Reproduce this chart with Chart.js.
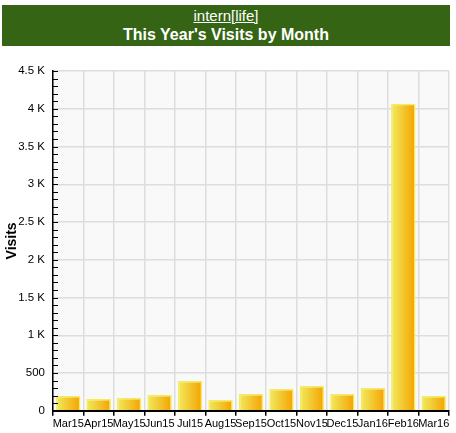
<!DOCTYPE html>
<html>
<head>
<meta charset="utf-8">
<script src="https://cdn.jsdelivr.net/npm/chart.js@4"></script>
<style>
  body { margin: 0; background: #fff; font-family: "Liberation Sans", Arial, sans-serif; }
  #head {
    position: absolute; left: 2px; top: 5px; width: 448px; height: 41px;
    background: #346414; color: #fff; text-align: center;
  }
  #head .site { font-size: 15px; text-decoration: underline; line-height: 19px; padding-top: 1px; }
  #head .title { font-size: 16px; font-weight: bold; line-height: 20px; }
  #wrap { position: absolute; left: 0; top: 50px; width: 456px; height: 383px; }
</style>
</head>
<body>
<div id="head">
  <div class="site">intern[life]</div>
  <div class="title">This Year's Visits by Month</div>
</div>
<div id="wrap"><canvas id="visitsChart"></canvas></div>
<script>
// months shown on the x axis
const months = ['Mar15', 'Apr15', 'May15', 'Jun15', 'Jul15', 'Aug15', 'Sep15',
  'Oct15', 'Nov15', 'Dec15', 'Jan16', 'Feb16', 'Mar16'];
// visits per month
const visits = [195, 155, 168, 208, 394, 142, 221, 288, 328, 221, 301, 4065, 195];
// y axis range and labelled steps
const yMax = 4500;
const yMajor = 500;
const yMinor = 100;

function formatK(v) {
  if (v === 0) return '0';
  if (v < 1000) return String(v);
  return (v / 1000) + ' K';
}

// small inward tick marks on the y axis, every 100
const minorTicks = {
  id: 'minorTicks',
  afterDraw(chart) {
    const y = chart.scales.y;
    const c = chart.ctx;
    c.save();
    c.strokeStyle = '#000';
    c.lineWidth = 1;
    c.beginPath();
    for (let v = 0; v <= yMax; v += yMinor) {
      const py = Math.round(y.getPixelForValue(v)) + 0.5;
      c.moveTo(y.right, py);
      c.lineTo(y.right + 5, py);
    }
    c.stroke();
    c.restore();
  }
};

const ctx = document.getElementById('visitsChart').getContext('2d');
new Chart(ctx, {
  type: 'bar',
  data: {
    labels: months,
    datasets: [{
      label: 'Visits',
      data: visits,
      backgroundColor: function (context) {
        const chart = context.chart;
        if (!chart.chartArea || context.dataIndex === undefined) return '#f3c030';
        const x = chart.scales.x;
        const cx = x.getPixelForValue(context.dataIndex);
        const half = (chart.chartArea.right - chart.chartArea.left) / months.length * 0.4;
        const g = chart.ctx.createLinearGradient(cx - half, 0, cx + half, 0);
        g.addColorStop(0, '#f1ea5e');
        g.addColorStop(1, '#f5a200');
        return g;
      },
      borderColor: '#f4ec58',
      borderWidth: 1.5,
      borderSkipped: 'bottom',
      barPercentage: 0.8,
      categoryPercentage: 1.0,
    }],
  },
  options: {
    responsive: true,
    maintainAspectRatio: false,
    animation: false,
    layout: { padding: { top: 21, right: 7, left: 4, bottom: 0 } },
    plugins: {
      legend: { display: false },
      tooltip: { enabled: false },
    },
    scales: {
      x: {
        offset: true,
        grid: {
          offset: true,
          color: '#dddddd',
          tickColor: '#000',
          tickLength: 5,
          lineWidth: 1.5,
        },
        border: { color: '#000', width: 2 },
        ticks: {
          color: '#000',
          font: { family: 'Liberation Sans', size: 11 },
          maxRotation: 0,
          autoSkip: false,
          padding: 2,
        },
      },
      y: {
        min: 0,
        max: yMax,
        afterFit(scale) { scale.width = 49; },
        title: {
          display: true,
          text: 'Visits',
          color: '#000',
          font: { family: 'Liberation Sans', size: 14, weight: 'bold' },
          padding: { top: 0, bottom: 0 },
        },
        grid: {
          drawTicks: false,
          lineWidth: 1.5,
          color: function (c) {
            return c.tick && c.tick.value % yMajor === 0 ? '#dddddd' : 'rgba(0,0,0,0)';
          },
        },
        border: { color: '#000', width: 1.5 },
        ticks: {
          stepSize: yMinor,
          autoSkip: false,
          color: '#000',
          font: { family: 'Liberation Sans', size: 11.5 },
          padding: 8,
          callback: function (value) {
            return value % yMajor === 0 ? formatK(value) : '';
          },
        },
      },
    },
  },
  plugins: [{
    id: 'plotBg',
    beforeDraw(chart) {
      const a = chart.chartArea;
      chart.ctx.save();
      chart.ctx.fillStyle = '#f9f9f9';
      chart.ctx.fillRect(a.left, a.top, a.right - a.left, a.bottom - a.top);
      chart.ctx.restore();
    }
  }, minorTicks],
});
</script>
</body>
</html>
